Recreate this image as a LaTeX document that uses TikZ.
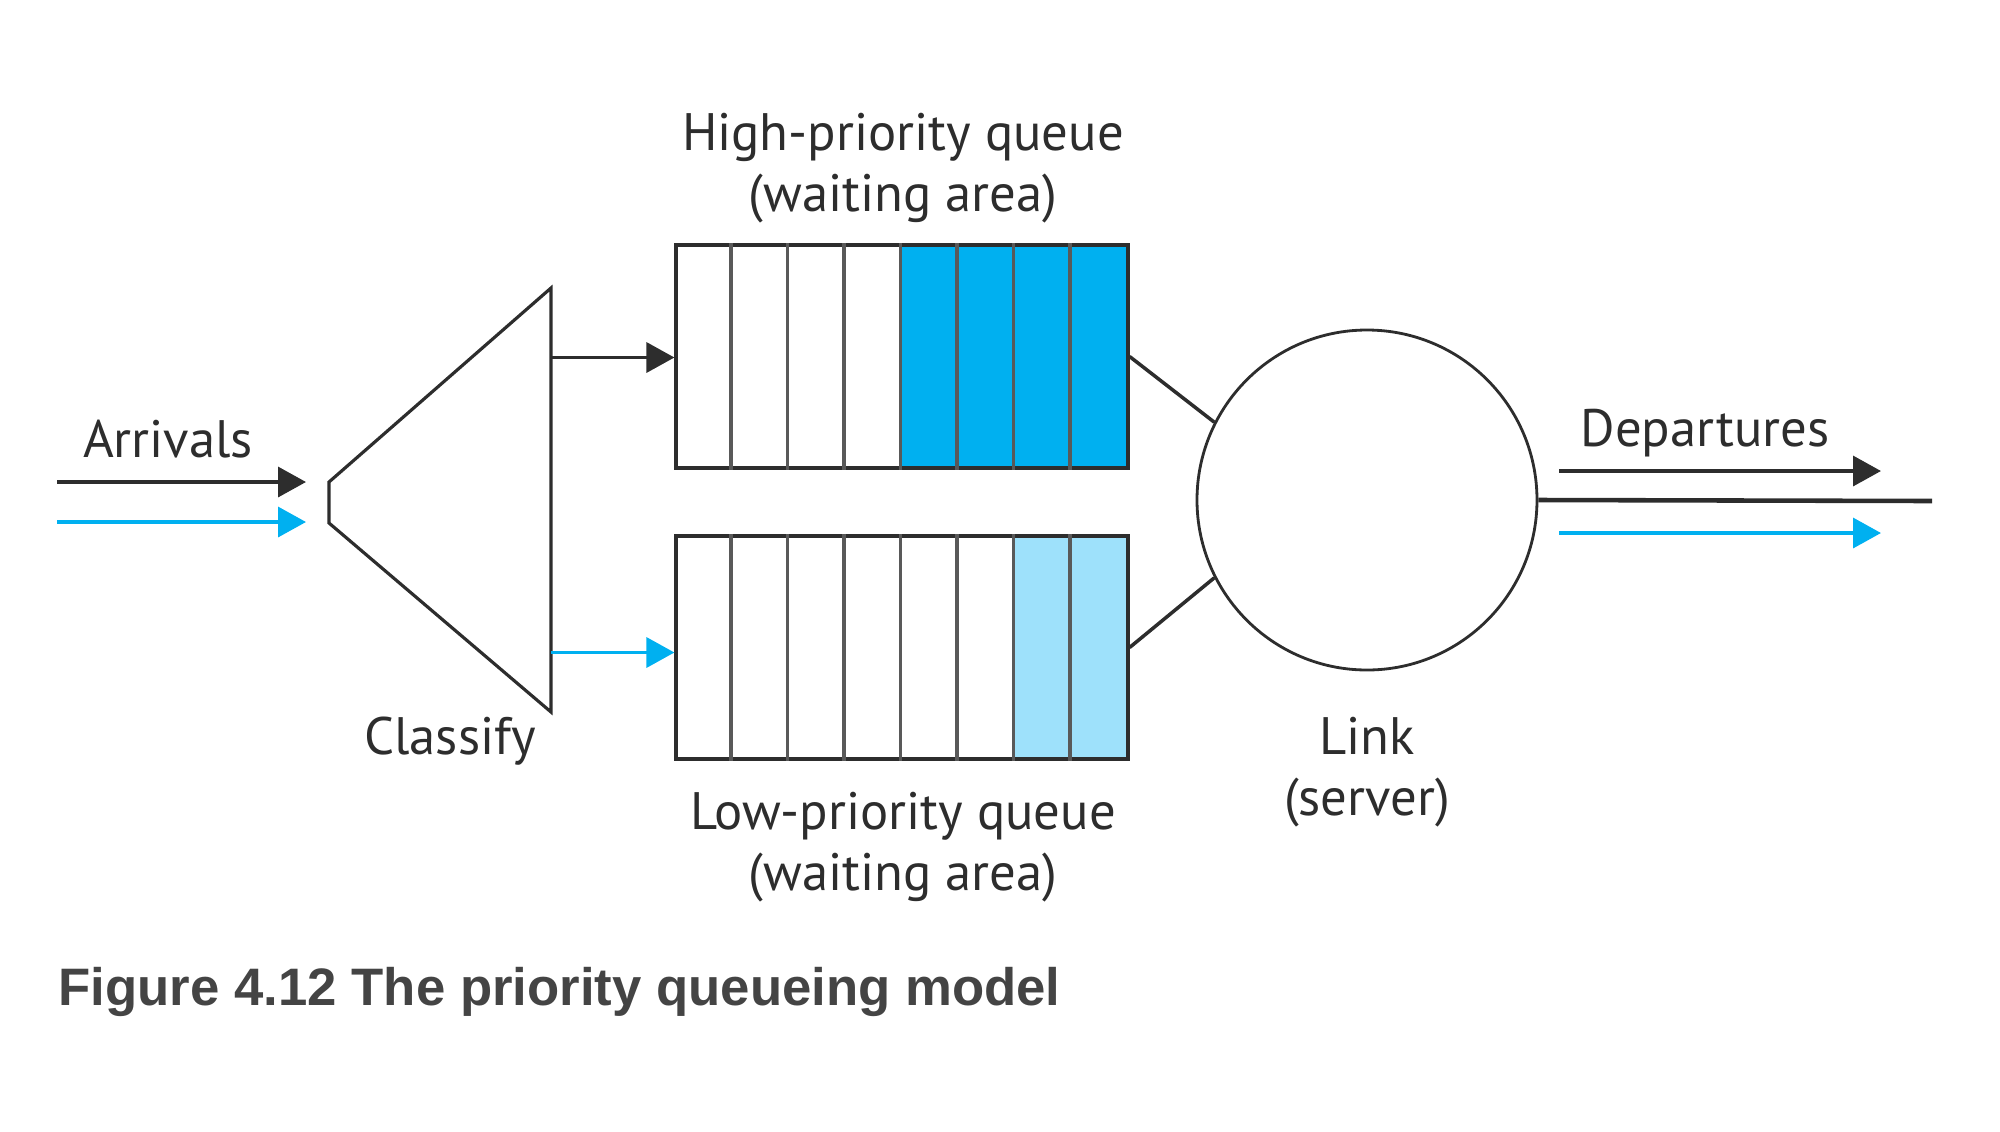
\documentclass[tikz,border=0pt]{standalone}
\usepackage{fontspec}
\setmainfont{PT Sans}
\newfontfamily\capfont{Liberation Sans}
\usepackage{xcolor}
\usepackage{tikz}
\usetikzlibrary{positioning, arrows.meta, calc, backgrounds}

\definecolor{hiblue}{RGB}{0,176,240}
\definecolor{loblue}{RGB}{158,225,251}
\definecolor{inkgray}{RGB}{45,45,45}
\definecolor{capgray}{RGB}{68,68,68}

\begin{document}
\begin{tikzpicture}[
    every node/.style={font=\fontsize{15}{17.5}\selectfont, text=inkgray},
    label/.style={align=center, inner sep=0pt},
    queue/.style={draw=inkgray, line width=0.9pt, minimum width=4.52cm, minimum height=2.23cm, inner sep=0pt},
    cellsep/.style={draw=black!65, line width=0.9pt},
    server/.style={circle, draw=inkgray, line width=0.8pt, minimum size=3.4cm, inner sep=0pt},
    wire/.style={draw=inkgray, line width=1pt},
    arrow/.style={-{Triangle[length=0.28cm, width=0.3cm]}, line width=1pt, draw=inkgray},
    bluearrow/.style={arrow, draw=hiblue, -{Triangle[length=0.28cm, width=0.3cm, fill=hiblue]}},
  ]
  \useasboundingbox (0,0) rectangle (20,-11.31);
  \def\cw{0.565}

  % --- Classifier ---
  \coordinate (cl-w1) at (3.29,-4.82);
  \coordinate (cl-w2) at (3.29,-5.23);
  \coordinate (cl-ne) at (5.51,-2.88);
  \coordinate (cl-se) at (5.51,-7.12);
  \draw[wire, line width=0.9pt] (cl-w1) -- (cl-ne) -- (cl-se) -- (cl-w2) -- cycle;
  \node[label] (classify) at (4.50,-7.41) {Classify};

  % --- Arrivals ---
  \coordinate (in-black) at (0.57,-4.82);
  \coordinate (in-blue) at (0.57,-5.22);
  \node[label] (arrivals) at (1.68,-4.39) {Arrivals};
  \draw[arrow] (in-black) -- (3.06,-4.82);
  \draw[bluearrow] (in-blue) -- (3.06,-5.22);

  % --- Queues ---
  \node[queue] (hq) at (9.02,-3.565) {};
  \node[queue] (lq) at (9.02,-6.475) {};
  \begin{scope}[on background layer]
    \fill[hiblue] ($(hq.south west)+(4*\cw,0)$) rectangle (hq.north east);
    \fill[loblue] ($(lq.south west)+(6*\cw,0)$) rectangle (lq.north east);
  \end{scope}
  \foreach \q in {hq,lq}
    \foreach \i in {1,...,7}
      \draw[cellsep] ($(\q.south west)+(\i*\cw,0)$) -- ($(\q.north west)+(\i*\cw,0)$);

  \node[label] (hqlabel) at (9.03,-1.68) {High-priority queue\\(waiting area)};
  \node[label] (lqlabel) at (9.03,-8.47) {Low-priority queue\\(waiting area)};

  \draw[arrow] ($(cl-ne |- hq.west)+(0,-0.01)$) -- ($(hq.west)+(0,-0.01)$);
  \draw[bluearrow] ($(cl-ne |- lq.west)+(0,-0.05)$) -- ($(lq.west)+(0,-0.05)$);

  % --- Link ---
  \node[server] (link) at (13.67,-5.0) {};
  \node[label] (linklabel) at (13.67,-7.72) {Link\\(server)};
  \draw[wire] (hq.east) -- (link.153);
  \draw[wire] (lq.east) -- (link.207);

  % --- Departures ---
  \coordinate (out-end) at (19.32,-5.01);
  \coordinate (out-black) at (15.59,-4.71);
  \coordinate (out-blue) at (15.59,-5.33);
  \draw[wire, line width=1.3pt] (link.east) -- (out-end);
  \draw[arrow] (out-black) -- (18.81,-4.71);
  \draw[bluearrow] (out-blue) -- (18.81,-5.33);
  \node[label] (departures) at (17.05,-4.33) {Departures};

  % --- Caption ---
  \node[label, anchor=west, text=capgray, font=\capfont\bfseries\fontsize{15}{17}\selectfont] (caption) at (0.58,-9.92) {Figure 4.12 The priority queueing model};

\end{tikzpicture}
\end{document}
